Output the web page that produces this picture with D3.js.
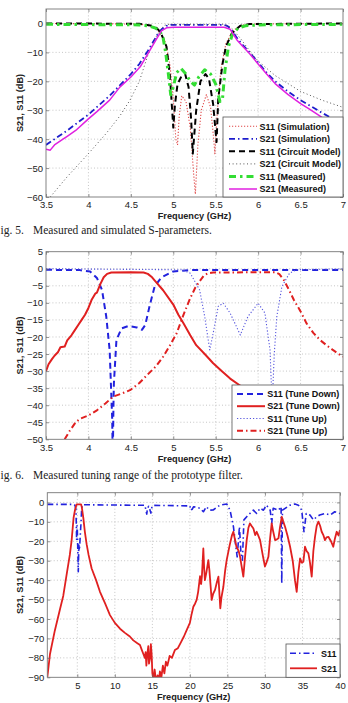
<!DOCTYPE html>
<html><head><meta charset="utf-8">
<script src="https://cdn.jsdelivr.net/npm/d3@7"></script>
<style>
body{margin:0;background:#fff;}
svg{display:block;}
text{font-family:"Liberation Sans",Arial,Helvetica,sans-serif;}
</style></head><body>
<svg id="c" width="348" height="703"></svg>
<script>
// ---------------- Fig. 5 data ----------------
const fig5XTicks = [3.5, 4, 4.5, 5, 5.5, 6, 6.5, 7];
const fig5YTicks = [0, -10, -20, -30, -40, -50, -60];
const fig5Labels = ["S11 (Simulation)", "S21 (Simulation)", "S11 (Circuit Model)", "S21 (Circuit Model)", "S11 (Measured)", "S21 (Measured)"];
const fig5_S11_sim = [[3.5,0],[4.6,-0.2],[4.75,-1],[4.82,-2.5],[4.9,-6],[4.96,-14],[5.0,-26],[5.03,-40],[5.05,-42],[5.07,-32],[5.1,-25],[5.15,-27],[5.2,-36],[5.24,-52],[5.26,-59],[5.29,-42],[5.33,-30],[5.39,-24.6],[5.44,-29],[5.47,-38],[5.49,-45],[5.52,-30],[5.56,-16],[5.62,-7],[5.7,-2.5],[5.8,-0.6],[5.9,-0.2],[7,0]];
const fig5_S21_sim = [[3.5,-42],[3.6,-40],[3.75,-37],[4.0,-31.5],[4.25,-25],[4.4,-20.5],[4.5,-17.5],[4.6,-14],[4.7,-9.5],[4.76,-6.5],[4.82,-3.5],[4.87,-1.8],[4.92,-0.8],[4.97,-0.5],[5.6,-0.5],[5.64,-0.9],[5.68,-2],[5.75,-5],[5.82,-7.5],[5.9,-10],[6.0,-13.5],[6.1,-17],[6.2,-20],[6.35,-23.5],[6.5,-26.5],[6.73,-30.5],[6.85,-32.5],[7,-34.5]];
const fig5_S11_circ = [[3.5,0],[4.6,-0.1],[4.75,-0.8],[4.8,-1.5],[4.85,-3],[4.92,-8],[4.96,-18],[5.0,-36],[5.02,-28],[5.05,-21],[5.1,-18],[5.14,-17.5],[5.18,-22],[5.21,-33],[5.23,-45],[5.27,-30],[5.32,-20],[5.38,-17.5],[5.42,-19],[5.47,-28],[5.51,-41],[5.53,-26],[5.58,-14],[5.62,-8],[5.69,-3.4],[5.79,-0.8],[5.9,-0.2],[7,0]];
const fig5_S21_circ = [[3.5,-62],[3.55,-60],[3.75,-53],[4.0,-45],[4.21,-38],[4.37,-32],[4.49,-26.5],[4.6,-20],[4.7,-11],[4.76,-7],[4.8,-4.5],[4.85,-2],[4.9,-0.6],[4.95,-0.3],[5.6,-0.3],[5.65,-0.8],[5.7,-2],[5.8,-5.5],[5.9,-9.5],[6.0,-13],[6.2,-18],[6.5,-23.5],[6.75,-26.5],[7,-29]];
const fig5_S11_meas = [[3.5,-0.3],[4.6,-0.5],[4.7,-0.8],[4.78,-1.5],[4.84,-2.5],[4.88,-5],[4.91,-10],[4.94,-17],[4.97,-24.7],[5.0,-22],[5.04,-17],[5.09,-15.5],[5.15,-17.5],[5.2,-20],[5.25,-21.3],[5.3,-18.5],[5.37,-16],[5.44,-17.5],[5.5,-21],[5.55,-27],[5.58,-26],[5.61,-16],[5.65,-8],[5.7,-3.5],[5.77,-1.5],[5.85,-0.8],[6.0,-0.5],[7,-0.3]];
const fig5_S21_meas = [[3.5,-43.5],[3.55,-43.8],[3.6,-42],[3.7,-40],[3.75,-39],[3.85,-37],[4.0,-33],[4.1,-30.5],[4.25,-26.5],[4.37,-22],[4.5,-18.5],[4.61,-15],[4.7,-10.5],[4.76,-7.5],[4.81,-5],[4.86,-2.6],[4.92,-1.5],[5.0,-1.3],[5.6,-1.3],[5.67,-2],[5.75,-5.7],[5.82,-8],[5.9,-10.5],[6.0,-14],[6.1,-17.5],[6.2,-20.8],[6.35,-24.5],[6.5,-27.7],[6.6,-29.5],[6.73,-32],[6.85,-34.5],[7,-37]];

// ---------------- Fig. 6 data ----------------
const fig6XTicks = [3.5, 4, 4.5, 5, 5.5, 6, 6.5, 7];
const fig6YTicks = [5, 0, -5, -10, -15, -20, -25, -30, -35, -40, -45, -50];
const fig6Labels = ["S11 (Tune Down)", "S21 (Tune Down)", "S11 (Tune Up)", "S21 (Tune Up)"];
const fig6_S11_down = [[3.5,-0.3],[3.9,-0.4],[3.94,-0.6],[4.02,-0.8],[4.1,-2.7],[4.16,-6.2],[4.21,-14],[4.25,-23.8],[4.28,-44],[4.287,-56],[4.295,-40],[4.3,-33.6],[4.33,-20.9],[4.39,-17.5],[4.47,-16.8],[4.57,-17.2],[4.63,-17.9],[4.67,-16.5],[4.72,-11],[4.78,-5.2],[4.86,-2.5],[5.0,-0.8],[5.2,-0.4],[7,-0.4]];
const fig6_S21_down = [[3.5,-30],[3.53,-28],[3.57,-26.5],[3.6,-25.5],[3.64,-24.5],[3.67,-23],[3.72,-22.8],[3.75,-21],[3.8,-19.5],[3.84,-18],[3.88,-16.5],[3.92,-15],[3.96,-13.5],[4.0,-11.5],[4.04,-9],[4.08,-7.3],[4.1,-7],[4.14,-4.5],[4.18,-2.5],[4.22,-1.5],[4.27,-1.1],[4.5,-1],[4.65,-1.1],[4.7,-1.5],[4.75,-2.5],[4.8,-4],[4.88,-6.3],[5.0,-10.5],[5.06,-13.5],[5.12,-16],[5.2,-19.5],[5.27,-22.4],[5.37,-25],[5.47,-27.7],[5.57,-30],[5.67,-32.2],[5.79,-34.3],[6.0,-37],[6.5,-42],[7,-46]];
const fig6_S11_up = [[3.5,0],[5.1,-0.3],[5.2,-1.3],[5.31,-6.2],[5.37,-14],[5.43,-23.8],[5.47,-18.9],[5.53,-11],[5.59,-10.1],[5.67,-13],[5.79,-19.4],[5.88,-14],[6.0,-10.1],[6.08,-13],[6.14,-23.8],[6.165,-40],[6.19,-25],[6.22,-14],[6.28,-5.2],[6.37,-1.3],[6.45,-0.3],[7,0]];
const fig6_S21_up = [[3.72,-50],[3.78,-47.5],[3.85,-45],[3.9,-44],[3.95,-43.5],[4.0,-43],[4.1,-41.5],[4.2,-39.5],[4.29,-37.5],[4.4,-36.5],[4.49,-35.6],[4.6,-33.5],[4.69,-31.2],[4.8,-28.5],[4.88,-25.8],[4.96,-22.5],[5.04,-18.9],[5.12,-13.5],[5.2,-8.6],[5.26,-5.5],[5.31,-3.7],[5.36,-2],[5.41,-1.3],[5.47,-1.1],[6.2,-1],[6.25,-1.6],[6.3,-3.2],[6.36,-6],[6.42,-9.1],[6.5,-12.5],[6.57,-16],[6.65,-18.8],[6.73,-20.9],[6.8,-22.3],[6.88,-23.8],[6.95,-25],[7,-25.8]];

// ---------------- Wideband data ----------------
const fig7XTicks = [5, 10, 15, 20, 25, 30, 35, 40];
const fig7YTicks = [0, -10, -20, -30, -40, -50, -60, -70, -80, -90];
const fig7Labels = ["S11", "S21"];
const fig7_S11 = [[1,-1],[4.5,-1],[4.69,-1.5],[4.82,-3.9],[4.91,-19.4],[4.96,-12],[5.0,-14],[5.05,-22],[5.13,-35.7],[5.2,-22],[5.27,-24.7],[5.36,-19.4],[5.42,-15],[5.49,-10.8],[5.58,-3],[5.7,-1.2],[14.0,-1.5],[14.15,-4],[14.25,-6],[14.35,-3],[14.5,-2],[14.65,-3.5],[14.8,-5.5],[14.95,-2],[15.2,-1.5],[20.0,-1.8],[20.1,-4],[20.3,-3.5],[20.5,-2.2],[21.35,-3],[21.8,-4.8],[22.2,-2.2],[22.6,-4],[23.1,-3.9],[24.0,-1.4],[24.9,-0.8],[25.35,-4],[25.8,-12.5],[26.1,-22],[26.3,-28],[26.46,-20],[26.6,-12.5],[26.8,-26],[27.0,-29.7],[27.2,-9],[27.57,-7.4],[28.0,-5.7],[28.46,-4],[28.9,-5.7],[29.35,-3],[29.8,-4],[30.2,-1.4],[30.7,-4],[30.9,-10.8],[31.1,-3],[31.8,-4],[32.15,-2.2],[32.24,-41.7],[32.33,-4],[33.35,-1.4],[34.0,-0.8],[34.45,-1.4],[34.9,-4],[35.2,-15.1],[35.5,-5.7],[36.0,-6.5],[36.45,-9],[36.9,-7.4],[37.3,-6.5],[38.0,-5.7],[38.7,-6.5],[39.3,-4.8],[40,-5.7]];
const fig7_S21 = [[1,-90],[1.36,-78],[2.0,-66],[2.69,-55],[3.13,-48],[3.58,-37],[4.0,-27],[4.24,-19.5],[4.5,-8],[4.69,-3.9],[4.9,-1],[5.5,-1],[5.6,-2.5],[5.8,-8],[6.0,-15],[6.24,-21.5],[6.5,-27],[6.91,-34],[7.5,-40],[8.02,-46],[8.7,-52],[9.35,-58],[10.0,-62],[10.69,-65],[11.3,-67],[12.0,-69],[12.46,-71],[13.0,-72.5],[13.35,-73.4],[13.6,-76],[13.8,-78],[14.0,-80],[14.1,-77],[14.2,-84],[14.3,-79],[14.46,-74],[14.55,-83],[14.7,-80],[14.8,-73],[14.9,-78],[15.0,-88],[15.13,-91],[15.3,-86],[15.5,-92],[15.7,-89],[15.9,-91],[16.0,-87],[16.2,-90],[16.4,-84],[16.6,-88],[16.8,-82],[17.0,-84],[17.3,-79],[17.6,-80],[18.0,-76],[18.4,-75],[18.8,-72],[19.2,-69],[19.57,-65.7],[20.0,-62],[20.2,-58],[20.46,-53.7],[20.7,-52],[20.9,-50.2],[21.1,-46],[21.35,-38],[21.5,-42],[21.6,-38],[21.79,-23.7],[21.9,-34],[22.0,-40],[22.2,-36],[22.46,-29.7],[22.6,-35],[22.9,-50.2],[23.1,-47],[23.35,-45],[23.6,-41],[23.8,-38.2],[23.95,-48],[24.05,-54.5],[24.2,-49],[24.46,-43.4],[24.7,-35],[24.9,-29.7],[25.3,-22],[25.6,-17],[25.79,-15.1],[26.0,-19],[26.2,-22.8],[26.5,-25],[26.68,-27.9],[26.9,-33],[27.12,-38.2],[27.35,-28],[27.57,-19.4],[27.8,-13],[28.0,-10.8],[28.2,-12],[28.46,-13.4],[28.7,-16.8],[28.9,-15.1],[29.1,-17],[29.35,-19.4],[29.7,-27],[30.0,-33],[30.2,-31],[30.46,-28],[30.7,-18],[30.9,-10.8],[31.1,-15],[31.35,-19.4],[31.6,-19],[31.8,-18.5],[32.0,-13],[32.24,-7.4],[32.45,-10],[32.68,-12.5],[33.0,-17],[33.35,-22.8],[33.7,-30],[34.0,-40],[34.23,-46],[34.45,-36],[34.68,-28.8],[34.9,-31],[35.12,-30.5],[35.34,-22.8],[35.55,-25],[35.79,-26.2],[36.0,-31],[36.23,-38.2],[36.45,-25],[36.67,-17.7],[36.9,-12],[37.12,-9.9],[37.35,-12],[37.56,-15.1],[37.8,-17],[38.0,-19.4],[38.2,-18],[38.45,-17.7],[38.8,-20],[39.1,-22.8],[39.3,-19],[39.56,-15.1],[39.8,-17],[40,-14.2]];

// ---------------- drawing ----------------
const svg = d3.select("#c");
const fmt = d => (d < 0 ? "\u2212" + Math.abs(d) : String(d));

function drawChart(cfg) {
  const x = d3.scaleLinear().domain(cfg.xDomain).range([cfg.left, cfg.right]);
  const y = d3.scaleLinear().domain(cfg.yDomain).range([cfg.bottom, cfg.top]);
  const g = svg.append("g");
  const clipId = "clip" + cfg.id;
  svg.append("clipPath").attr("id", clipId).append("rect")
    .attr("x", cfg.left).attr("y", cfg.top)
    .attr("width", cfg.right - cfg.left).attr("height", cfg.bottom - cfg.top);

  // grid
  g.append("g").selectAll("line").data(cfg.xTicks.filter(d => x(d) > cfg.left + 1 && x(d) < cfg.right - 1)).join("line")
    .attr("x1", d => x(d)).attr("x2", d => x(d)).attr("y1", cfg.top).attr("y2", cfg.bottom)
    .attr("stroke", "#b8b8b8").attr("stroke-width", 0.8).attr("stroke-dasharray", "1,2.2");
  g.append("g").selectAll("line").data(cfg.yTicks.filter(d => y(d) > cfg.top + 1 && y(d) < cfg.bottom - 1)).join("line")
    .attr("y1", d => y(d)).attr("y2", d => y(d)).attr("x1", cfg.left).attr("x2", cfg.right)
    .attr("stroke", "#b8b8b8").attr("stroke-width", 0.8).attr("stroke-dasharray", "1,2.2");

  // series
  const line = d3.line().x(d => x(d[0])).y(d => y(d[1]));
  const sg = g.append("g").attr("clip-path", `url(#${clipId})`);
  cfg.series.forEach(s => {
    sg.append("path").datum(s.data).attr("d", line)
      .attr("fill", "none").attr("stroke", s.color).attr("stroke-width", s.width)
      .attr("stroke-dasharray", s.dash || null).attr("stroke-linejoin", "round");
  });

  // axes
  const ax = d3.axisBottom(x).tickValues(cfg.xTicks).tickSize(-3).tickPadding(4.5).tickFormat(fmt);
  const ay = d3.axisLeft(y).tickValues(cfg.yTicks).tickSize(-3).tickPadding(3).tickFormat(fmt);
  const axT = d3.axisTop(x).tickValues(cfg.xTicks).tickSize(-3).tickFormat("");
  const ayR = d3.axisRight(y).tickValues(cfg.yTicks).tickSize(-3).tickFormat("");
  [[ax, `translate(0,${cfg.bottom})`], [ay, `translate(${cfg.left},0)`], [axT, `translate(0,${cfg.top})`], [ayR, `translate(${cfg.right},0)`]].forEach(([a, t]) => {
    const ag = g.append("g").attr("transform", t).call(a);
    ag.select(".domain").remove();
    ag.selectAll("line").attr("stroke", "#666").attr("stroke-width", 0.7);
    ag.selectAll("text").attr("fill", "#222").style("font-size", "9.5px").attr("font-family", null);
  });
  g.append("rect").attr("x", cfg.left).attr("y", cfg.top)
    .attr("width", cfg.right - cfg.left).attr("height", cfg.bottom - cfg.top)
    .attr("fill", "none").attr("stroke", "#777").attr("stroke-width", 0.9);

  // labels
  g.append("text").attr("x", (cfg.left + cfg.right) / 2).attr("y", cfg.xLabelY)
    .attr("text-anchor", "middle").style("font-size", "9.2px").style("font-weight", "bold").attr("fill", "#222")
    .text("Frequency (GHz)");
  g.append("text").attr("transform", `translate(${cfg.yLabelX},${(cfg.top + cfg.bottom) / 2}) rotate(-90)`)
    .attr("text-anchor", "middle").style("font-size", "9.2px").style("font-weight", "bold").attr("fill", "#222")
    .text("S21, S11 (dB)");

  // legend
  const L = cfg.legend;
  const lg = g.append("g");
  lg.append("rect").attr("x", L.x0).attr("y", L.y0).attr("width", L.x1 - L.x0).attr("height", L.y1 - L.y0)
    .attr("fill", "#fff").attr("stroke", "#555").attr("stroke-width", 0.8);
  cfg.series.forEach((s, i) => {
    const ry = L.rows[i];
    lg.append("line").attr("x1", L.s0).attr("x2", L.s1).attr("y1", ry).attr("y2", ry)
      .attr("stroke", s.color).attr("stroke-width", s.width).attr("stroke-dasharray", s.dash || null);
    lg.append("text").attr("x", L.tx).attr("y", ry + 3.2).style("font-size", "9px").style("font-weight", "bold")
      .attr("fill", "#111").text(cfg.labels[i]);
  });

  if (cfg.caption) {
    svg.append("text").attr("x", 0.5).attr("y", cfg.captionY)
      .style("font-family", "'Liberation Serif','Times New Roman',serif").style("font-size", "11.5px").attr("fill", "#222")
      .text(cfg.caption[0]);
    svg.append("text").attr("x", 33).attr("y", cfg.captionY)
      .style("font-family", "'Liberation Serif','Times New Roman',serif").style("font-size", "11.5px").attr("fill", "#222")
      .text(cfg.caption[1]);
  }
}

drawChart({
  id: 1, left: 46, right: 343, top: 9, bottom: 197,
  xDomain: [3.5, 7], yDomain: [-60, 5], xTicks: fig5XTicks, yTicks: fig5YTicks,
  xLabelY: 218.5, yLabelX: 23,
  labels: fig5Labels,
  series: [
    { data: fig5_S11_sim, color: "#e04848", width: 1.1, dash: "1.2,1.8" },
    { data: fig5_S21_sim, color: "#1c1ccc", width: 1.8, dash: "6,3,1.5,3" },
    { data: fig5_S11_circ, color: "#000", width: 2, dash: "6,4" },
    { data: fig5_S21_circ, color: "#555", width: 1, dash: "1,2.6" },
    { data: fig5_S11_meas, color: "#33dd33", width: 3, dash: "7,4,2.5,4" },
    { data: fig5_S21_meas, color: "#e020e0", width: 1.5 }
  ],
  legend: { x0: 223, x1: 343, y0: 117, y1: 197, s0: 229, s1: 257, tx: 259.5,
    rows: [126.3, 138.8, 151.3, 163.9, 176.4, 189] },
  caption: ["ig. 5.", "Measured and simulated S-parameters."], captionY: 234
});

drawChart({
  id: 2, left: 46, right: 343, top: 251.7, bottom: 439.3,
  xDomain: [3.5, 7], yDomain: [-50, 5], xTicks: fig6XTicks, yTicks: fig6YTicks,
  xLabelY: 461.5, yLabelX: 23,
  labels: fig6Labels,
  series: [
    { data: fig6_S11_down, color: "#2222dd", width: 2, dash: "6,4" },
    { data: fig6_S21_down, color: "#e02020", width: 2 },
    { data: fig6_S11_up, color: "#5555dd", width: 1.1, dash: "1.2,2" },
    { data: fig6_S21_up, color: "#e02020", width: 2, dash: "6,3,1.5,3" }
  ],
  legend: { x0: 232, x1: 343, y0: 385, y1: 439.3, s0: 237, s1: 265, tx: 267.3,
    rows: [394, 406.2, 418.5, 430.8] },
  caption: ["ig. 6.", "Measured tuning range of the prototype filter."], captionY: 479
});

drawChart({
  id: 3, left: 47.3, right: 340, top: 492.7, bottom: 677.3,
  xDomain: [1, 40], yDomain: [-90, 5], xTicks: fig7XTicks, yTicks: fig7YTicks,
  xLabelY: 699.5, yLabelX: 23,
  labels: fig7Labels,
  series: [
    { data: fig7_S11, color: "#2222dd", width: 1.6, dash: "6,3,1.5,3" },
    { data: fig7_S21, color: "#e02020", width: 1.8 }
  ],
  legend: { x0: 286, x1: 340, y0: 644, y1: 677.3, s0: 290, s1: 317, tx: 321,
    rows: [653.3, 668.3] }
});
</script>
</body></html>
